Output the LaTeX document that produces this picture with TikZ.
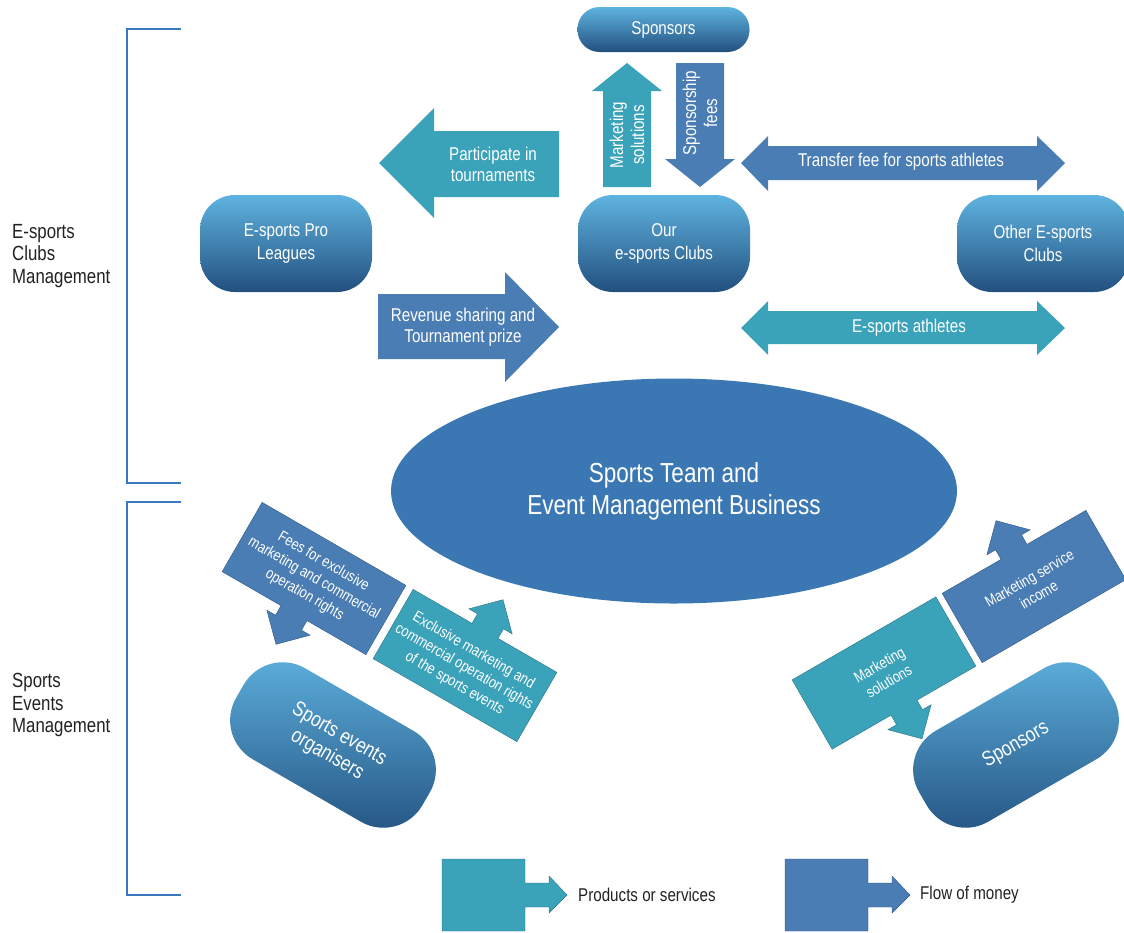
\documentclass[tikz,border=0pt]{standalone}
\usepackage{fontspec}
\setmainfont{Liberation Sans}[FakeStretch=0.82]
\usetikzlibrary{shapes.geometric}

\definecolor{prodcol}{HTML}{3AA3B9}
\definecolor{moneycol}{HTML}{4A7DB3}
\definecolor{ellcol}{HTML}{3A77B3}
\definecolor{brackcol}{HTML}{3A78BE}
\definecolor{lightcol}{HTML}{5FB3E0}
\definecolor{darkcol}{HTML}{22507F}
\definecolor{prodedge}{HTML}{2A7383}
\definecolor{moneyedge}{HTML}{30598A}
\definecolor{textcol}{HTML}{222222}

\tikzset{
  club/.style={rounded corners=35pt, top color=lightcol, bottom color=darkcol,
    text=white, align=center, minimum width=172pt, minimum height=97pt,
    inner sep=0pt, font=\fontsize{18.5}{23}\selectfont},
  pill/.style={club, rounded corners=45pt, minimum width=215pt, minimum height=105pt,
    font=\fontsize{21}{24}\selectfont},
  lbl/.style={text=white, align=center, inner sep=0pt, font=\fontsize{18.5}{21}\selectfont},
  boxlbl/.style={text=white, align=center, inner sep=0pt, font=\fontsize{15.5}{19}\selectfont},
  side/.style={anchor=west, align=left, text=textcol, inner sep=0pt,
    font=\fontsize{20.5}{22.5}\selectfont},
  legend/.style={anchor=west, text=textcol, inner sep=0pt, font=\fontsize{18.5}{21}\selectfont},
  bracket/.style={draw=brackcol, line width=2.5pt},
}

\begin{document}
\begin{tikzpicture}[x=1pt, y=-1pt]
  \useasboundingbox (0,0) rectangle (1124,932);
  \clip (0,0) rectangle (1124,932);

  \draw[bracket] (181,29) -- (127,29) -- (127,483) -- (181,483);
  \draw[bracket] (181,502) -- (127,502) -- (127,895) -- (181,895);
  \node[side] (clubsMgmt) at (12,256) {E-sports\\Clubs\\Management};
  \node[side] (eventsMgmt) at (12,705) {Sports\\Events\\Management};

  \node[club, minimum height=45pt, rounded corners=22pt] (sponsorsTop) at (663.5,29.5) {Sponsors};
  \node[club] (ourClubs) at (664,243.5) {Our\\e-sports Clubs};
  \node[club] (proLeagues) at (286,243.5) {E-sports Pro\\Leagues};
  \node[club] (otherClubs) at (1043,243.5) {Other E-sports\\Clubs};

  \fill[prodcol] (603,187) -- (603,91) -- (592,91) -- (627,63) -- (662,91) -- (651,91) -- (651,187) -- cycle;
  \node[lbl, rotate=90] (mktTop) at (627,135) {Marketing\\solutions};
  \fill[moneycol] (676,63) -- (724,63) -- (724,159) -- (735,159) -- (700,187) -- (665,159) -- (676,159) -- cycle;
  \node[lbl, rotate=90] (feesTop) at (700,113) {Sponsorship\\fees};

  \fill[prodcol] (559,131) -- (434,131) -- (434,108) -- (379,163) -- (434,218) -- (434,197) -- (559,197) -- cycle;
  \node[lbl] (participate) at (493,164) {Participate in\\tournaments};
  \fill[moneycol] (378,294) -- (505,294) -- (505,272) -- (559,327) -- (505,382) -- (505,359) -- (378,359) -- cycle;
  \node[lbl] (revenue) at (463,327) {Revenue sharing and\\Tournament prize};

  \fill[moneycol] (741,163) -- (768,136) -- (768,146) -- (1037,146) -- (1037,136) -- (1065,163)
    -- (1037,191) -- (1037,180) -- (768,180) -- (768,191) -- cycle;
  \node[lbl] (transfer) at (901,162) {Transfer fee for sports athletes};
  \fill[prodcol] (741,328) -- (768,301) -- (768,311) -- (1037,311) -- (1037,301) -- (1065,328)
    -- (1037,355) -- (1037,344) -- (768,344) -- (768,355) -- cycle;
  \node[lbl] (athletes) at (909,328) {E-sports athletes};

  \node[ellipse, fill=ellcol, minimum width=566pt, minimum height=225pt, inner sep=0pt,
    text=white, align=center, font=\fontsize{27.5}{32}\selectfont] (business) at (674,491)
    {Sports Team and\\Event Management Business};

  \begin{scope}[shift={(314,578.5)}, rotate=-30]
    \draw[moneyedge, fill=moneycol] (-83,-40) -- (83,-40) -- (83,40) -- (15,40) -- (15,51) -- (25,51)
      -- (0,76) -- (-25,51) -- (-15,51) -- (-15,40) -- (-83,40) -- cycle;
    \node[boxlbl, rotate=-30] (feesRights) at (0,0) {Fees for exclusive\\marketing and commercial\\operation rights};
  \end{scope}
  \begin{scope}[shift={(465,665.5)}, rotate=-30]
    \draw[prodedge, fill=prodcol] (-83,40) -- (83,40) -- (83,-40) -- (15,-40) -- (15,-51) -- (25,-51)
      -- (0,-76) -- (-25,-51) -- (-15,-51) -- (-15,-40) -- (-83,-40) -- cycle;
    \node[boxlbl, rotate=-30] (rights) at (0,2) {Exclusive marketing and\\commercial operation rights\\of the sports events};
  \end{scope}
  \begin{scope}[shift={(884,673)}, rotate=30]
    \draw[prodedge, fill=prodcol] (-83,-40) -- (83,-40) -- (83,40) -- (15,40) -- (15,51) -- (25,51)
      -- (0,76) -- (-25,51) -- (-15,51) -- (-15,40) -- (-83,40) -- cycle;
    \node[boxlbl, rotate=30] (mktBottom) at (0,0) {Marketing\\solutions};
  \end{scope}
  \begin{scope}[shift={(1034,586.5)}, rotate=30]
    \draw[moneyedge, fill=moneycol] (-83,40) -- (83,40) -- (83,-40) -- (15,-40) -- (15,-51) -- (25,-51)
      -- (0,-76) -- (-25,-51) -- (-15,-51) -- (-15,-40) -- (-83,-40) -- cycle;
    \node[boxlbl, rotate=30] (income) at (0,0) {Marketing service\\income};
  \end{scope}

  \node[pill, rotate=-30] (organisers) at (333,745) {Sports events\\organisers};
  \node[pill, rotate=30] (sponsorsBottom) at (1016,745) {Sponsors};

  \draw[prodedge, fill=prodcol] (442,859) -- (525,859) -- (525,883) -- (549,883) -- (549,876) -- (567,895)
    -- (549,913) -- (549,907) -- (525,907) -- (525,931) -- (442,931) -- cycle;
  \node[legend] (products) at (578,895) {Products or services};
  \draw[moneyedge, fill=moneycol] (785,859) -- (868,859) -- (868,883) -- (892,883) -- (892,876) -- (910,895)
    -- (892,913) -- (892,907) -- (868,907) -- (868,931) -- (785,931) -- cycle;
  \node[legend] (money) at (920,895) {Flow of money};
\end{tikzpicture}
\end{document}
